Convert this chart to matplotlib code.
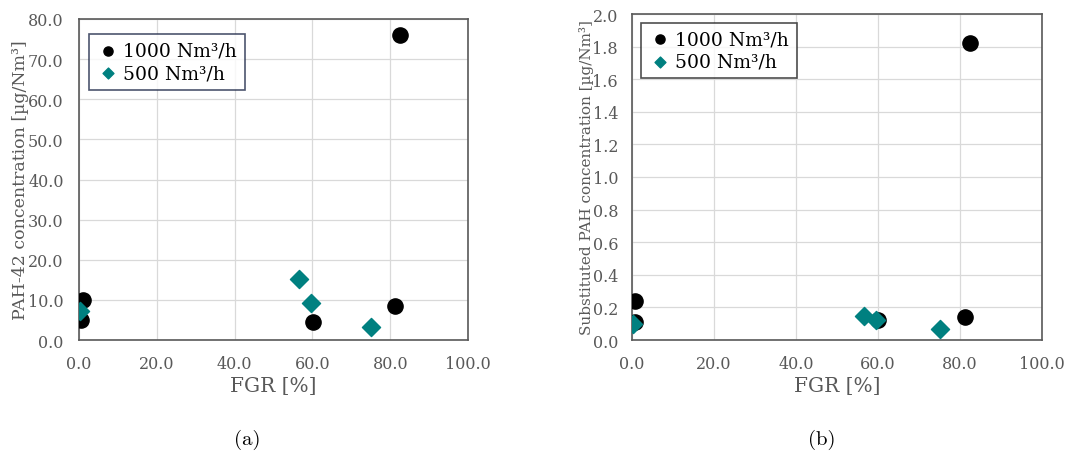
import matplotlib
matplotlib.use("Agg")
import matplotlib.pyplot as plt
import numpy as np
from matplotlib.ticker import FormatStrFormatter

# Data
fgr_1000 = [0.5, 0.9, 60.1, 81.2, 82.5]
pah42_1000 = [5.1, 9.9, 4.6, 8.4, 76.0]
fgr_500 = [0.3, 56.6, 59.6, 75.1]
pah42_500 = [7.2, 15.1, 9.1, 3.3]

fgr_1000_b = [0.7, 0.8, 60.0, 81.1, 82.5]
subpah_1000 = [0.11, 0.24, 0.123, 0.143, 1.82]
fgr_500_b = [0.3, 56.6, 59.6, 75.0]
subpah_500 = [0.10, 0.145, 0.12, 0.067]

labels = ["1000 Nm³/h", "500 Nm³/h"]
captions = ["(a)", "(b)"]

plt.rcParams['font.family'] = ['DejaVu Serif']
TEAL = "#008080"
GRAY = "#595959"

fig = plt.figure(figsize=(10.7, 4.56), dpi=100)
W, H = 1070, 456
axA = fig.add_axes([79 / W, 1 - 341 / H, (468 - 79) / W, (341 - 20) / H])
axB = fig.add_axes([632 / W, 1 - 341 / H, (1042 - 632) / W, (341 - 15) / H])

def style(ax, ymax, ystep, ylabel, ylsize, ypad):
    ax.set_xlim(0, 100)
    ax.set_ylim(0, ymax)
    ax.set_xticks([0, 20, 40, 60, 80, 100])
    ax.set_yticks(np.arange(0, ymax + ystep / 2, ystep))
    ax.xaxis.set_major_formatter(FormatStrFormatter('%.1f'))
    ax.yaxis.set_major_formatter(FormatStrFormatter('%.1f'))
    ax.grid(True, color="#d9d9d9", linewidth=0.9)
    ax.set_axisbelow(True)
    for s in ax.spines.values():
        s.set_color(GRAY)
        s.set_linewidth(1.2)
    ax.tick_params(length=0, colors=GRAY, labelsize=11.5)
    ax.tick_params(axis='x', pad=11)
    ax.tick_params(axis='y', pad=ypad)
    ax.set_xlabel("FGR [%]", fontsize=14.5, color=GRAY, labelpad=3)
    ax.set_ylabel(ylabel, fontsize=ylsize, color=GRAY, labelpad=-1)

style(axA, 80, 10, "PAH-42 concentration [µg/Nm³]", 12.5, 11)
style(axB, 2.0, 0.2, "Substituted PAH concentration [µg/Nm³]", 11, 10)

for ax, x1, y1, x5, y5, ec, anchor in [
    (axA, fgr_1000, pah42_1000, fgr_500, pah42_500, "#1f2a4a", (0.015, 0.965)),
    (axB, fgr_1000_b, subpah_1000, fgr_500_b, subpah_500, "#222222", (0.012, 0.985)),
]:
    ax.scatter(x1, y1, s=120, marker='o', color='black', label=labels[0], zorder=3)
    ax.scatter(x5, y5, s=85, marker='D', color=TEAL, label=labels[1], zorder=4)
    leg = ax.legend(loc='upper left', bbox_to_anchor=anchor, fontsize=13.5,
                    frameon=True, fancybox=False, edgecolor=ec, borderpad=0.4,
                    handletextpad=0.15, handlelength=1.3, labelspacing=0.25,
                    markerscale=0.6, borderaxespad=0.2)
    leg.get_frame().set_linewidth(1.2)

fig.text(247 / W, 1 - 440 / H, captions[0], fontsize=15, family='cmr10', ha='center', va='center')
fig.text(822 / W, 1 - 440 / H, captions[1], fontsize=15, family='cmr10', ha='center', va='center')

fig.savefig("out.png", dpi=100)
